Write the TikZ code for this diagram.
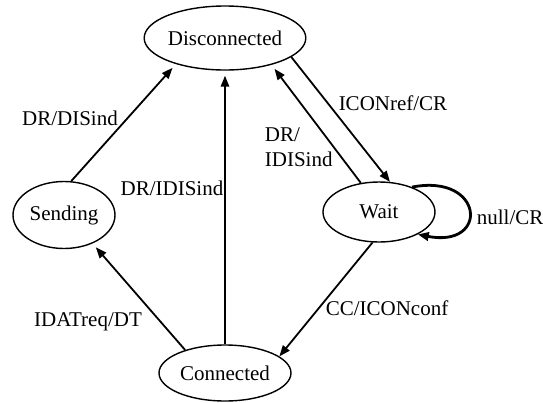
\documentclass[tikz,border=0pt]{standalone}
\usepackage{fontspec}
\setmainfont{Liberation Serif}
\usetikzlibrary{arrows.meta,shapes.geometric}
\tikzset{
  every picture/.style={line width=0.9pt},
  sfont/.style={font=\fontsize{10.5}{12.5}\selectfont},
  sstate/.style={ellipse, draw, line width=0.7pt, inner sep=0pt, sfont},
  strans/.style={-{Triangle[length=5.5pt,width=4.2pt]}},
  sgap/.style={shorten >=2.5pt},
  sselfloop/.style={strans, line width=1.4pt},
  slabel/.style={sfont, inner sep=1pt},
}

\begin{document}
\begin{tikzpicture}[x=0.5pt,y=-0.5pt]
\useasboundingbox (0,0) rectangle (543,403);
% states (coordinates in pixels of the original)
\node[sstate,minimum width=79pt,minimum height=32pt] (disc) at (225,38) {Disconnected};
\node[sstate,minimum width=51pt,minimum height=33.5pt] (send) at (64,215) {Sending};
\node[sstate,minimum width=56pt,minimum height=30pt] (wait) at (379,212) {Wait};
\node[sstate,minimum width=66pt,minimum height=28pt] (conn) at (225,373) {Connected};
% transitions
\draw[strans,sgap] (send.78) -- (disc.208);
\draw[strans,sgap] (conn.north) -- (disc.south);
\draw[strans,sgap] (wait.122) -- (disc.330);
\draw[strans] (disc.344) -- (wait.70);
\draw[sselfloop] (wait.37) .. controls +(72,-14) and +(72,14) .. (wait.330);
\draw[strans] (wait.258) -- (conn.17);
\draw[strans,sgap] (conn.150) -- (send.315);
% labels
\node[slabel] (lSD) at (70,118) {DR/DISind};
\node[slabel] (lCD) at (172,188) {DR/IDISind};
\node[slabel,align=left,anchor=west] (lWD) at (262,147) {DR/\\IDISind};
\node[slabel] (lDW) at (393,103) {ICONref/CR};
\node[slabel,anchor=west] (lWW) at (474,217) {null/CR};
\node[slabel] (lWC) at (387,308) {CC/ICONconf};
\node[slabel] (lCS) at (88,322) {IDATreq/DT};
\end{tikzpicture}
\end{document}
